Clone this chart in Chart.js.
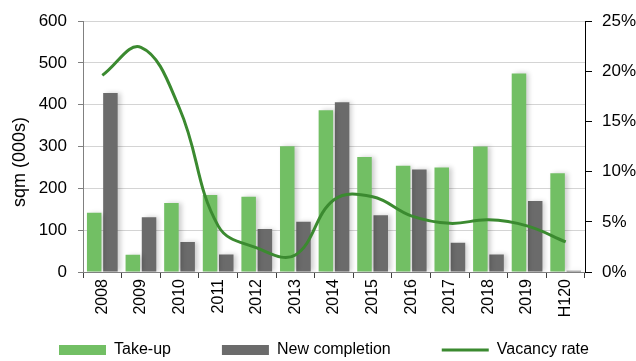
<!DOCTYPE html>
<html>
<head>
<meta charset="utf-8">
<script src="https://cdn.jsdelivr.net/npm/chart.js@4/dist/chart.umd.min.js"></script>
<style>
  html, body { margin: 0; padding: 0; background: #fff; }
  canvas { display: block; }
</style>
</head>
<body>
<canvas id="chart" width="636" height="361"></canvas>
<script>
const categories = ["2008", "2009", "2010", "2011", "2012", "2013", "2014", "2015", "2016", "2017", "2018", "2019", "H120"];
const takeUp = [142, 41, 165, 184, 180, 301, 387, 275, 254, 250, 300, 475, 236];
const newCompletion = [428, 131, 72, 42, 103, 120, 406, 136, 245, 70, 42, 170, 3];
const vacancyRate = [19.6, 22.4, 16.3, 4.6, 2.4, 1.7, 7.2, 7.5, 5.6, 4.85, 5.2, 4.6, 3.0];
const leftTicks = [0, 100, 200, 300, 400, 500, 600];
const rightTicks = [0, 5, 10, 15, 20, 25];

// the picture looks horizontally squeezed, a narrow face gets closest
function hasFont(name) {
  const c = document.createElement("canvas").getContext("2d");
  c.font = "40px monospace";
  const a = c.measureText("Take-up 2008").width;
  c.font = '40px "' + name + '", monospace';
  const b = c.measureText("Take-up 2008").width;
  return a !== b;
}
const narrow = hasFont("Liberation Sans Narrow");
const flatFont = narrow
  ? { family: "'Liberation Sans Narrow', 'Liberation Sans', Arial, sans-serif", size: 19 }
  : { family: "'Liberation Sans', Arial, sans-serif", size: 16 };
const tickFont = narrow ? flatFont : { family: "'Liberation Sans', Arial, sans-serif", size: 17 };
const upFont = { family: "'Liberation Sans', Arial, sans-serif", size: 16 };

const PLOT_TOP = 18, PLOT_BOTTOM = 272, LEFT_W = 83, RIGHT_W = 51, X_H = 50;
const LEGEND_PAD = 51;
// legend box height as chart.js measures it (item + padding + 10)
const LEGEND_H = flatFont.size + LEGEND_PAD + 10;

// soft shadow to the right of the bars
const barShadow = {
  id: "barShadow",
  beforeDatasetDraw(chart, args) {
    if (args.meta.type !== "bar") return;
    const c = chart.ctx;
    c.save();
    c.shadowColor = "rgba(0,0,0,0.2)";
    c.shadowBlur = 5;
    c.shadowOffsetX = 3;
  },
  afterDatasetDraw(chart, args) {
    if (args.meta.type === "bar") chart.ctx.restore();
  },
};

// put the legend where it sits in the picture
const legendPlace = {
  id: "legendPlace",
  afterLayout(chart) {
    const lg = chart.legend;
    if (!lg || !lg.lineWidths) return;
    const pad = lg.options.labels.padding;
    const start = (lg.left + pad + lg.right - lg.lineWidths[0]) / 2;
    const dx = 59 - start;
    lg.left += dx;
    lg.right += dx;
    const fs = lg.options.labels.font.size;
    const h = lg.height;
    lg.top = 350 - pad - fs / 2;
    lg.bottom = lg.top + h;
  },
};

// y axis title
const axisTitle = {
  id: "axisTitle",
  afterDraw(chart) {
    const c = chart.ctx;
    c.save();
    c.translate(20, 162);
    c.rotate(-Math.PI / 2);
    c.font = "18px 'Liberation Sans', Arial, sans-serif";
    c.fillStyle = "#000";
    c.textAlign = "center";
    c.textBaseline = "middle";
    c.fillText("sqm (000s)", 0, 0);
    c.restore();
  },
};

new Chart(document.getElementById("chart"), {
  data: {
    labels: categories,
    datasets: [
      {
        type: "bar",
        label: "Take-up",
        data: takeUp,
        backgroundColor: "#72bf64",
        borderWidth: 0,
        yAxisID: "y",
        categoryPercentage: 0.84,
        barPercentage: 0.895,
      },
      {
        type: "bar",
        label: "New completion",
        data: newCompletion,
        backgroundColor: "#6b6b6b",
        borderWidth: 0,
        yAxisID: "y",
        categoryPercentage: 0.84,
        barPercentage: 0.895,
      },
      {
        type: "line",
        label: "Vacancy rate",
        data: vacancyRate,
        borderColor: "#3b8a30",
        backgroundColor: "#3b8a30",
        borderWidth: 3,
        pointRadius: 0,
        tension: 0.4,
        yAxisID: "y1",
        order: -1,
      },
    ],
  },
  options: {
    responsive: false,
    animation: false,
    layout: {
      padding: { top: PLOT_TOP, left: 0, right: 0, bottom: 361 - PLOT_BOTTOM - X_H - LEGEND_H },
    },
    plugins: {
      tooltip: { enabled: false },
      legend: {
        position: "bottom",
        labels: {
          usePointStyle: true,
          pointStyleWidth: 47,
          boxHeight: 10,
          padding: LEGEND_PAD,
          color: "#000",
          font: flatFont,
          generateLabels(chart) {
            const items = Chart.defaults.plugins.legend.labels.generateLabels(chart);
            items.forEach((it) => {
              it.pointStyle = it.datasetIndex === 2 ? "line" : "rect";
            });
            return items.sort((a, b) => a.datasetIndex - b.datasetIndex);
          },
        },
      },
    },
    scales: {
      x: {
        offset: true,
        grid: {
          offset: true,
          drawOnChartArea: false,
          drawTicks: true,
          tickLength: 6,
          tickColor: "#404040",
        },
        border: { color: "#808080", width: 1 },
        ticks: {
          color: "#000",
          font: upFont,
          minRotation: 90,
          maxRotation: 90,
          padding: 1,
        },
        afterFit(scale) {
          scale.height = X_H;
        },
      },
      y: {
        position: "left",
        min: 0,
        max: 600,
        afterBuildTicks(scale) {
          scale.ticks = leftTicks.map((v) => ({ value: v }));
        },
        grid: { color: "#d4d4d4", tickColor: "#7f7f7f", tickLength: 5 },
        border: { color: "#808080", width: 1 },
        ticks: { color: "#000", font: tickFont, padding: 11 },
        afterFit(scale) {
          scale.width = LEFT_W;
        },
      },
      y1: {
        position: "right",
        min: 0,
        max: 25,
        afterBuildTicks(scale) {
          scale.ticks = rightTicks.map((v) => ({ value: v }));
        },
        grid: { drawOnChartArea: false, tickColor: "#000", tickLength: 7 },
        border: { color: "#000", width: 1 },
        ticks: {
          color: "#000",
          font: tickFont,
          padding: 10,
          callback: (v) => v + "%",
        },
        afterFit(scale) {
          scale.width = RIGHT_W;
        },
      },
    },
  },
  plugins: [barShadow, legendPlace, axisTitle],
});
</script>
</body>
</html>
